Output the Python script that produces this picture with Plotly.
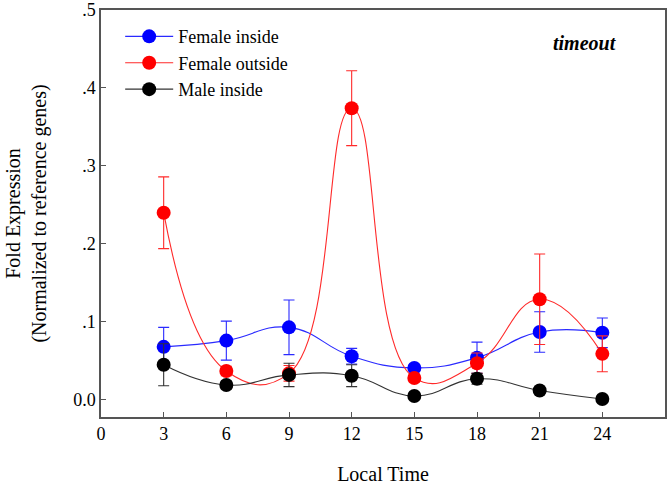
import plotly.graph_objects as go

hours = [3, 6, 9, 12, 15, 18, 21, 24]

female_inside = [0.068, 0.076, 0.093, 0.056, 0.041, 0.054, 0.087, 0.086]
female_inside_err = [0.025, 0.025, 0.035, 0.010, 0.004, 0.020, 0.026, 0.019]

female_outside = [0.240, 0.037, 0.034, 0.374, 0.028, 0.047, 0.129, 0.059]
female_outside_err = [0.046, 0.006, 0.010, 0.048, 0.005, 0.013, 0.058, 0.023]

male_inside = [0.045, 0.019, 0.032, 0.031, 0.005, 0.027, 0.012, 0.001]
male_inside_err = [0.027, 0.005, 0.015, 0.014, 0.003, 0.007, 0.004, 0.002]

x_ticks = [0, 3, 6, 9, 12, 15, 18, 21, 24]
y_ticks = [0.0, 0.1, 0.2, 0.3, 0.4, 0.5]
y_tick_labels = ["0.0", ".1", ".2", ".3", ".4", ".5"]

series = [
    ("Female inside", female_inside, female_inside_err, "#0000ff", "#2a2aff"),
    ("Female outside", female_outside, female_outside_err, "#ff0000", "#ff2a2a"),
    ("Male inside", male_inside, male_inside_err, "#000000", "#333333"),
]

serif = "Liberation Serif, Times New Roman, serif"

fig = go.Figure()
for name, vals, errs, color, lcolor in series:
    fig.add_trace(go.Scatter(
        x=hours, y=vals, name=name, mode="lines+markers",
        line=dict(color=lcolor, width=1.1, shape="spline", smoothing=1.3),
        marker=dict(color=color, size=14, symbol="circle"),
        error_y=dict(type="data", array=errs, visible=True, color=lcolor,
                     thickness=1.1, width=5.5),
    ))

fig.update_layout(
    width=670, height=485,
    margin=dict(l=101, r=5, t=10, b=68),
    paper_bgcolor="white", plot_bgcolor="white",
    font=dict(family=serif, size=18, color="#000000"),
    showlegend=True,
    legend=dict(x=0.034, y=0.98, xanchor="left", yanchor="top",
                bgcolor="rgba(0,0,0,0)", font=dict(family=serif, size=18),
                tracegroupgap=0, borderwidth=0, itemwidth=48),
    annotations=[dict(text="<b><i>timeout</i></b>", x=0.858, y=0.919,
                      xref="paper", yref="paper", xanchor="center", yanchor="middle",
                      showarrow=False, font=dict(family=serif, size=20))],
)
fig.update_xaxes(
    range=[0, 27], tickvals=x_ticks, ticktext=[str(t) for t in x_ticks],
    showgrid=False, zeroline=False, showline=True, linecolor="#555555",
    linewidth=1.5, mirror=True, ticks="inside", ticklen=5, tickcolor="#555555",
    title=dict(text="Local Time", standoff=27, font=dict(size=20)),
    tickfont=dict(size=18), automargin=False,
)
fig.update_yaxes(
    range=[-0.022, 0.5], tickvals=y_ticks, ticktext=y_tick_labels,
    showgrid=False, zeroline=False, showline=True, linecolor="#555555",
    linewidth=1.5, mirror=True, ticks="inside", ticklen=5, tickcolor="#555555",
    title=dict(text="Fold Expression<br>(Normalized to reference genes)", standoff=21,
               font=dict(size=20)),
    tickfont=dict(size=18), automargin=False,
)

# remove the page's default 8px body margin so the figure fills the 670x485 window
fig.write_html("out.html", config={"displayModeBar": False},
               post_script="document.body.style.margin='0px';")
